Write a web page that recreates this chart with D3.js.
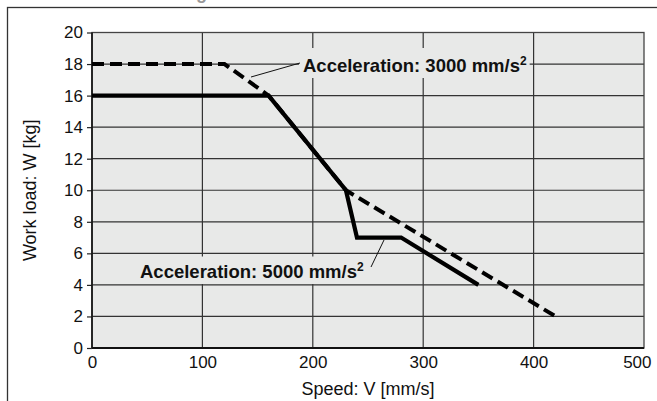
<!DOCTYPE html>
<html><head><meta charset="utf-8">
<script src="https://cdn.jsdelivr.net/npm/d3@7"></script>
<style>body{margin:0;background:#fff}svg{display:block}text{font-family:"Liberation Sans",Arial,sans-serif}</style>
</head><body>
<svg id="c" width="657" height="401"></svg>
<script>
const xTicks = [0,100,200,300,400,500];
const yTicks = [0,2,4,6,8,10,12,14,16,18,20];
const speed5000 = [0,160,230,240,280,350];
const load5000  = [16,16,10,7,7,4];
const speed3000 = [0,120,160,230,420];
const load3000  = [18,18,16,10,2];
const label3000 = "Acceleration: 3000 mm/s";
const label5000 = "Acceleration: 5000 mm/s";
const xTitle = "Speed: V [mm/s]";
const yTitle = "Work load: W [kg]";
const topTitle = "Horizontal mounting";

const svg = d3.select("#c");
const L=92, R=644, T=32.5, B=348;
const x = d3.scaleLinear().domain([0,500]).range([L,R]);
const y = d3.scaleLinear().domain([0,20]).range([B,T]);

// partially visible heading above the frame
svg.append("text").attr("x",32).attr("y",-1).attr("font-size",18).attr("font-weight","bold").attr("fill","#999").text(topTitle);
svg.append("rect").attr("x",7.5).attr("y",7.5).attr("width",700).attr("height",420)
  .attr("fill","none").attr("stroke","#333").attr("stroke-width",1.3);

// plot bg
svg.append("rect").attr("x",L).attr("y",T).attr("width",R-L).attr("height",B-T).attr("fill","#e8e9e8");

// grid
const g = svg.append("g");
g.selectAll("line.v").data(xTicks.slice(1,-1)).join("line")
  .attr("x1",d=>x(d)).attr("x2",d=>x(d)).attr("y1",T).attr("y2",B)
  .attr("stroke","#333").attr("stroke-width",1.2);
g.selectAll("line.h").data(yTicks.slice(1,-1)).join("line")
  .attr("x1",L).attr("x2",R).attr("y1",d=>y(d)).attr("y2",d=>y(d))
  .attr("stroke","#333").attr("stroke-width",1.2);

// axes
const yAxis = d3.axisLeft(y).tickValues(yTicks).tickSize(5).tickSizeOuter(0).tickPadding(4);
const ya = svg.append("g").attr("transform",`translate(${L},0)`).call(yAxis);
ya.select(".domain").remove();
ya.selectAll("line").attr("stroke","#222").attr("stroke-width",1.2);
ya.selectAll("text").attr("font-size",17).attr("fill","#111").attr("font-family","Liberation Sans, Arial, sans-serif");

const xAxis = d3.axisBottom(x).tickValues(xTicks).tickSize(0).tickPadding(8);
const xa = svg.append("g").attr("transform",`translate(0,${B})`).call(xAxis);
xa.select(".domain").remove();
xa.selectAll("text").attr("font-size",17).attr("fill","#111").attr("font-family","Liberation Sans, Arial, sans-serif");
xa.selectAll(".tick").filter(d=>d===500).select("text").attr("text-anchor","end").attr("x",7);

// plot border
svg.append("rect").attr("x",L).attr("y",T).attr("width",R-L).attr("height",B-T)
  .attr("fill","none").attr("stroke","#444").attr("stroke-width",1.3);
svg.append("line").attr("x1",L).attr("x2",L).attr("y1",T).attr("y2",B).attr("stroke","#111").attr("stroke-width",1.6);
svg.append("line").attr("x1",L).attr("x2",R).attr("y1",B).attr("y2",B).attr("stroke","#111").attr("stroke-width",2);

// titles
svg.append("text").attr("x",(L+R)/2).attr("y",395).attr("text-anchor","middle").attr("font-size",18).attr("fill","#111").text(xTitle);
svg.append("text").attr("transform",`translate(36,${(T+B)/2}) rotate(-90)`).attr("text-anchor","middle").attr("font-size",18).attr("fill","#111").text(yTitle);

// lines
const line = d3.line().x(d=>x(d[0])).y(d=>y(d[1]));
svg.append("path").datum(speed3000.map((s,i)=>[s,load3000[i]])).attr("d",line)
  .attr("fill","none").attr("stroke","#000").attr("stroke-width",4).attr("stroke-dasharray","12,6");
svg.append("path").datum(speed5000.map((s,i)=>[s,load5000[i]])).attr("d",line)
  .attr("fill","none").attr("stroke","#000").attr("stroke-width",4.2).attr("stroke-linejoin","miter");

// annotations
function annot(tx, ty, label, bx0, by0, by1, lx1, ly1, lx2, ly2){
  const bg = svg.append("rect").attr("fill","#e8e9e8");
  const t = svg.append("text").attr("x",tx).attr("y",ty).attr("font-size",18.5).attr("font-weight","bold").attr("fill","#111");
  t.append("tspan").text(label);
  t.append("tspan").attr("font-size",12).attr("dy",-7).text("2");
  const w = t.node().getComputedTextLength();
  bg.attr("x",bx0).attr("y",by0).attr("width",tx+w+3-bx0).attr("height",by1-by0);
  svg.append("line").attr("x1",lx1).attr("y1",ly1).attr("x2",lx2).attr("y2",ly2).attr("stroke","#111").attr("stroke-width",1);
}
annot(303, 72, label3000, 299, 48, 78, 300, 63, 251, 77);
annot(140, 278, label5000, 138, 256.5, 284, 371, 267, 384, 240);
</script>
</body></html>
